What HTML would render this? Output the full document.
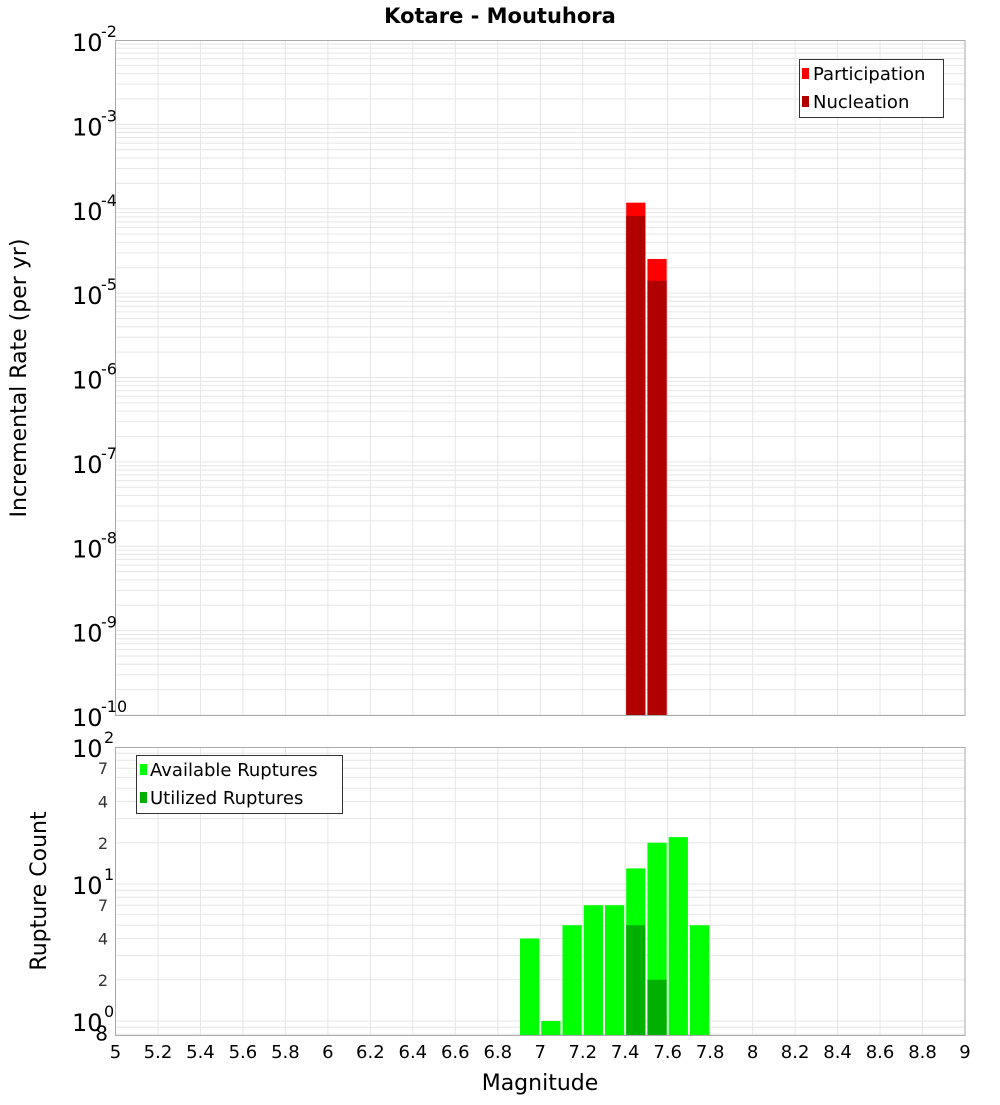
<!DOCTYPE html>
<html><head><meta charset="utf-8"><style>
body{margin:0;background:#fff}
svg text{font-family:"DejaVu Sans","Liberation Sans",sans-serif}
</style></head><body>
<svg id="c" width="1000" height="1100" xmlns="http://www.w3.org/2000/svg">
<text x="500" y="23" text-anchor="middle" font-size="21" font-weight="bold">Kotare - Moutuhora</text>
<g id="gtop"></g>
<g id="gbot"></g>
<text transform="translate(26,378) rotate(-90)" text-anchor="middle" font-size="22">Incremental Rate (per yr)</text>
<text transform="translate(46,891) rotate(-90)" text-anchor="middle" font-size="22">Rupture Count</text>
<text x="540" y="1090" text-anchor="middle" font-size="22">Magnitude</text>
<g>
<rect x="799.5" y="59.5" width="144" height="58" fill="#fff" stroke="#333"/>
<rect x="802" y="68" width="7" height="11" fill="#ff0000"/>
<text x="813" y="80" font-size="18">Participation</text>
<rect x="802" y="96" width="7" height="11" fill="#b00000"/>
<text x="813" y="108" font-size="18">Nucleation</text>
</g>
<g>
<rect x="136.5" y="755.5" width="206" height="58" fill="#fff" stroke="#333"/>
<rect x="140" y="764" width="7" height="11" fill="#00ff00"/>
<text x="150" y="776" font-size="18">Available Ruptures</text>
<rect x="140" y="792" width="7" height="11" fill="#00b000"/>
<text x="150" y="804" font-size="18">Utilized Ruptures</text>
</g>
</svg>
<script>
const rateBins=[7.45,7.55];
const participation=[1.18e-4,2.54e-5];
const nucleation=[8.2e-5,1.4e-5];
const countBins=[6.95,7.05,7.15,7.25,7.35,7.45,7.55,7.65,7.75];
const available=[4,1,5,7,7,13,20,22,5];
const utilizedBins=[7.45,7.55];
const utilized=[5,2];
const xTicks=[5,5.2,5.4,5.6,5.8,6,6.2,6.4,6.6,6.8,7,7.2,7.4,7.6,7.8,8,8.2,8.4,8.6,8.8,9];

const NS="http://www.w3.org/2000/svg";
const X0=115.5,X1=965;
const xs=m=>X0+(m-5)/4*(X1-X0);
const yT=v=>40+(-2-Math.log10(v))*84.375;
const yB=v=>747+(2-Math.log10(v))*137;
function mk(p,t,a){const e=document.createElementNS(NS,t);for(const k in a)e.setAttribute(k,a[k]);p.appendChild(e);return e;}
const gTop=document.getElementById('gtop'),gBot=document.getElementById('gbot');
function grid(g,y0,y1,yf,lo,hi){
  for(let d=lo;d<hi;d++)for(let k=1;k<10;k++){const yy=yf(k*Math.pow(10,d));if(yy<y0||yy>y1)continue;
    const l=mk(g,'line',{x1:X0,x2:X1,y1:yy,y2:yy,stroke:'#e6e6e6','stroke-width':1});
    
    }
  xTicks.forEach(t=>{const l=mk(g,'line',{x1:xs(t),x2:xs(t),y1:y0,y2:y1,stroke:'#e6e6e6'});
    
    });
}
grid(gTop,40,715,yT,-10,-2);
grid(gBot,747,1035,yB,-1,2);
rateBins.forEach((b,i)=>{
  const w=xs(b+0.05)-xs(b-0.05);
  const r=mk(gTop,'rect',{x:xs(b-0.05)+1,y:yT(participation[i]),width:w-2,height:715-yT(participation[i]),fill:'#ff0000'});
  
  
  const n=mk(gTop,'rect',{x:xs(b-0.05)+1,y:yT(nucleation[i]),width:w-2,height:715-yT(nucleation[i]),fill:'#b00000'});
  
  
});
countBins.forEach((b,i)=>{
  const w=xs(b+0.05)-xs(b-0.05);
  const r=mk(gBot,'rect',{x:xs(b-0.05)+1,y:yB(available[i]),width:w-2,height:1035-yB(available[i]),fill:'#00ff00'});
  
  
});
utilizedBins.forEach((b,i)=>{
  const w=xs(b+0.05)-xs(b-0.05);
  const r=mk(gBot,'rect',{x:xs(b-0.05)+1,y:yB(utilized[i]),width:w-2,height:1035-yB(utilized[i]),fill:'#00b000'});
  
  
});
mk(gTop,'rect',{x:X0,y:40.5,width:X1-X0,height:675,fill:'none',stroke:'#aaa'});
mk(gBot,'rect',{x:X0,y:747.5,width:X1-X0,height:288,fill:'none',stroke:'#aaa'});
for(let d=-10;d<=-2;d++){
  const yy=yT(Math.pow(10,d));
  const t=mk(gTop,'text',{x:72,y:yy+11,'font-size':24});
  
  
  t.textContent='10';
  const s=mk(gTop,'text',{x:101,y:yy-3,'font-size':16});s.textContent=String(d);
}
[[100,'2'],[10,'1'],[1,'0']].forEach(([v,e])=>{
  const yy=yB(v);
  const t=mk(gBot,'text',{x:72,y:yy+10,'font-size':24});
  
  
  t.textContent='10';
  const s=mk(gBot,'text',{x:104,y:yy-4,'font-size':16});s.textContent=e;
});
[[70,'7'],[40,'4'],[20,'2'],[7,'7'],[4,'4'],[2,'2'],[0.8,'8']].forEach(([v,l])=>{
  const t=mk(gBot,'text',{x:108,y:yB(v)+6,'font-size':v<1?20:16,'text-anchor':'end',fill:v<1?'#000':'#333'});
  
  
  t.textContent=l;
});
xTicks.forEach(v=>{
  const t=mk(gBot,'text',{x:xs(v),y:1058,'font-size':18,'text-anchor':'middle'});
  
  
  t.textContent=String(v);
});
</script>
</body></html>
